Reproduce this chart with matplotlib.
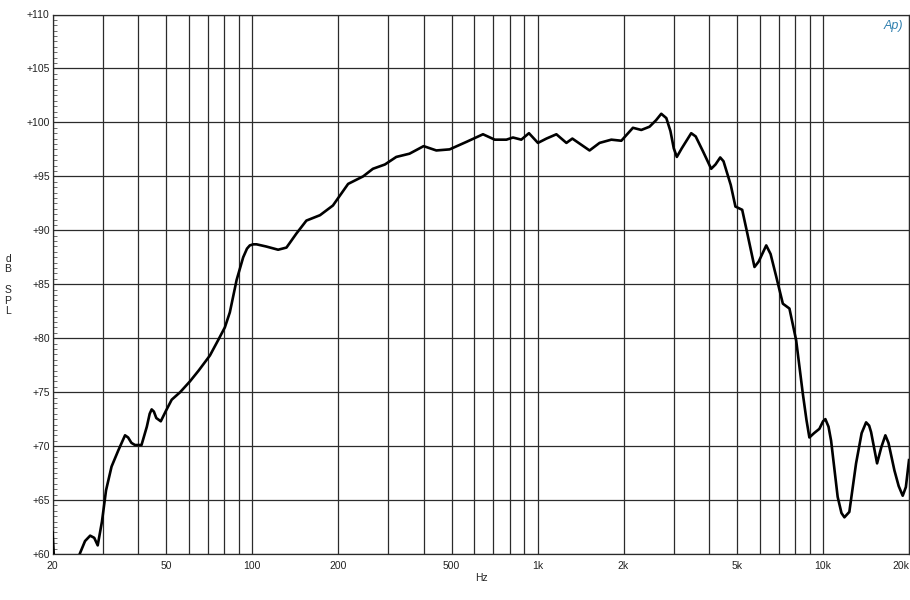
import numpy as np
import matplotlib
matplotlib.use("Agg")
import matplotlib.pyplot as plt
from matplotlib.ticker import FixedLocator, MultipleLocator, NullFormatter

plt.rcParams['font.family'] = ['Liberation Sans', 'DejaVu Sans']

# Frequency response (Hz, dB SPL)
freq = [20.0, 20.4, 24.0, 24.9, 26.0, 27.1, 28.0, 28.8, 29.8, 30.8, 32.2, 34.0,
        35.9, 36.8, 37.8, 38.9, 41.0, 42.8, 43.8, 44.5, 45.3, 46.2, 47.9, 50.0,
        52.3, 56.0, 60.6, 65.0, 71.2, 76.0, 80.3, 83.6, 88.3, 93.1, 96.0, 98.2,
        101.0, 103.7, 112.0, 123.4, 132.0, 143.0, 155.0, 173.0, 192.0, 217.0,
        245.0, 265.0, 292.0, 320.0, 356.0, 399.0, 442.0, 492.0, 564.0, 644.0,
        708.0, 778.0, 820.0, 877.0, 933.0, 1003.0, 1074.0, 1164.0, 1262.0,
        1324.0, 1521.0, 1649.0, 1813.0, 1965.0, 2158.0, 2309.0, 2467.0, 2600.0,
        2712.0, 2825.0, 2920.0, 3000.0, 3075.0, 3200.0, 3453.0, 3580.0, 3800.0,
        4057.0, 4200.0, 4363.0, 4480.0, 4750.0, 4933.0, 5209.0, 5400.0, 5752.0,
        5950.0, 6324.0, 6550.0, 6856.0, 7230.0, 7625.0, 8050.0, 8490.0, 8750.0,
        8956.0, 9300.0, 9708.0, 10000.0, 10188.0, 10450.0, 10670.0, 11250.0,
        11600.0, 11880.0, 12360.0, 13050.0, 13650.0, 14150.0, 14500.0, 14730.0,
        15460.0, 16000.0, 16530.0, 16950.0, 17780.0, 18400.0, 19010.0, 19500.0,
        20000.0]
spl = [62.0, 58.0, 58.0, 60.0, 61.2, 61.7, 61.5, 60.8, 63.0, 65.9, 68.1, 69.6,
       71.0, 70.8, 70.3, 70.1, 70.1, 71.8, 73.0, 73.4, 73.2, 72.6, 72.3, 73.3,
       74.3, 75.0, 76.0, 77.0, 78.4, 79.8, 81.0, 82.4, 85.4, 87.5, 88.3, 88.6,
       88.7, 88.7, 88.5, 88.2, 88.4, 89.7, 90.9, 91.4, 92.3, 94.3,
       95.0, 95.7, 96.1, 96.8, 97.1, 97.8, 97.4, 97.5, 98.2, 98.9,
       98.4, 98.4, 98.6, 98.4, 99.0, 98.1, 98.5, 98.9, 98.1,
       98.5, 97.4, 98.1, 98.4, 98.3, 99.5, 99.3, 99.6, 100.2,
       100.8, 100.4, 99.2, 97.6, 96.8, 97.6, 99.0, 98.7, 97.3,
       95.7, 96.1, 96.75, 96.4, 94.2, 92.2, 91.9, 90.0, 86.6,
       87.1, 88.6, 87.8, 85.7, 83.2, 82.75, 79.8, 74.9, 72.4,
       70.8, 71.2, 71.6, 72.3, 72.5, 71.8, 70.5, 65.3,
       63.8, 63.4, 63.9, 68.4, 71.2, 72.2, 71.9, 71.3,
       68.4, 69.9, 71.0, 70.3, 67.75, 66.3, 65.4, 66.2,
       68.7]

x_ticks = [20, 50, 100, 200, 500, 1000, 2000, 5000, 10000, 20000]
x_labels = ['20', '50', '100', '200', '500', '1k', '2k', '5k', '10k', '20k']
y_ticks = [60, 65, 70, 75, 80, 85, 90, 95, 100, 105, 110]
y_labels = ['+%d' % v for v in y_ticks]

fig = plt.figure(figsize=(9.1, 6.0), dpi=100)
ax = fig.add_axes([52.5 / 910, 46 / 600, 856.5 / 910, 539.5 / 600])

# log grid: every 1..9 multiple of each decade
grid_x = [m * 10 ** d for d in range(1, 5) for m in range(1, 10)]
grid_x = [g for g in grid_x if 20 <= g <= 20000]
for g in grid_x:
    ax.axvline(g, color='#2b2b2b', lw=0.9, zorder=1)
for v in y_ticks:
    ax.axhline(v, color='#2b2b2b', lw=0.9, zorder=1)

ax.plot(freq, spl, color='black', lw=1.9, solid_joinstyle='round', zorder=3)

ax.set_xscale('log')
ax.set_xlim(20, 20000)
ax.set_ylim(60, 110)
ax.xaxis.set_major_locator(FixedLocator(x_ticks))
ax.xaxis.set_minor_locator(FixedLocator([]))
ax.xaxis.set_minor_formatter(NullFormatter())
ax.set_xticks(x_ticks)
ax.set_xticklabels(x_labels)
ax.set_yticks(y_ticks)
ax.set_yticklabels(y_labels)
ax.xaxis.get_ticklabels()[-1].set_horizontalalignment('right')
ax.yaxis.set_minor_locator(MultipleLocator(0.5))
ax.tick_params(axis='x', length=0, pad=5, labelsize=7.5, colors='#222222')
ax.tick_params(axis='y', which='major', length=0, pad=2, labelsize=7.5,
               colors='#222222')
ax.tick_params(axis='y', which='minor', direction='in', length=3, width=0.6,
               color='#555555')
for s in ax.spines.values():
    s.set_color('#2b2b2b')
    s.set_linewidth(0.9)

fig.text(481 / 910, 1 - 578 / 600, 'Hz', ha='center', va='center',
         fontsize=7.5, color='#222222')
fig.text(8 / 910, 1 - 285 / 600, 'd\nB\n\nS\nP\nL', ha='center', va='center',
         fontsize=7.5, color='#222222', linespacing=1.05)
fig.text(893 / 910, 1 - 26 / 600, 'Ap)', ha='center', va='center',
         fontsize=9, style='italic', color='#2f7fae')

fig.savefig('out.png', dpi=100, facecolor='white')
